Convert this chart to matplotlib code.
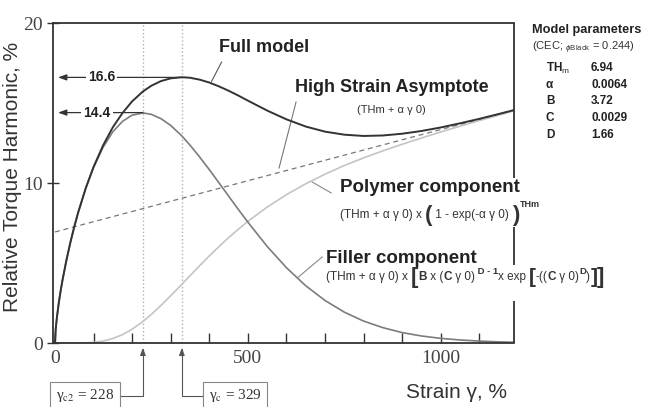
import numpy as np
import matplotlib
matplotlib.use('Agg')
import matplotlib.pyplot as plt

# Curve values (strain in %, torque harmonic in %)
strain = [0, 2, 5, 10, 15, 20, 30, 40, 50, 60, 80, 100, 125, 150, 175, 200, 228, 250, 275, 300,
          329, 350, 375, 400, 425, 450, 475, 500, 550, 600, 650, 700, 750, 800, 850, 900, 950,
          1000, 1050, 1100, 1150, 1200]
polymer = [0.00, 0.00, 0.00, 0.00, 0.00, 0.00, 0.00, 0.00, 0.00, 0.00, 0.01, 0.04, 0.12, 0.28,
           0.52, 0.86, 1.34, 1.79, 2.35, 2.95, 3.67, 4.20, 4.83, 5.44, 6.02, 6.58, 7.10, 7.60,
           8.49, 9.27, 9.95, 10.55, 11.09, 11.57, 12.01, 12.42, 12.81, 13.19, 13.55, 13.90, 14.24, 14.57]
filler = [0.00, 0.86, 1.58, 2.51, 3.29, 3.98, 5.20, 6.28, 7.25, 8.13, 9.67, 10.96, 12.24, 13.20,
          13.85, 14.24, 14.38, 14.29, 14.02, 13.60, 12.94, 12.37, 11.63, 10.84, 10.02, 9.19, 8.36, 7.56,
          6.04, 4.71, 3.58, 2.66, 1.93, 1.37, 0.96, 0.65, 0.44, 0.29, 0.19, 0.12, 0.07, 0.04]
full = [0.00, 0.86, 1.58, 2.51, 3.29, 3.98, 5.20, 6.28, 7.25, 8.14, 9.69, 11.00, 12.36, 13.48,
        14.37, 15.10, 15.72, 16.08, 16.37, 16.54, 16.61, 16.58, 16.46, 16.28, 16.04, 15.77, 15.47, 15.15,
        14.53, 13.98, 13.53, 13.21, 13.02, 12.94, 12.97, 13.08, 13.25, 13.47, 13.73, 14.01, 14.31, 14.62]
asym_strain = [0, 1200]
asym_values = [6.94, 14.62]

# Marked strains and peak values
gamma_c2, gamma_c = 228, 329
peak_filler, peak_full = 14.4, 16.6

param_names = ['TH$_\\mathrm{m}$', '\u03b1', 'B', 'C', 'D']
param_values = ['6.94', '0.0064', '3.72', '0.0029', '1.66']

plt.rcParams['font.family'] = 'Liberation Sans'
plt.rcParams['mathtext.fontset'] = 'custom'
plt.rcParams['mathtext.rm'] = 'Liberation Sans'
plt.rcParams['mathtext.it'] = 'Liberation Sans:italic'
plt.rcParams['mathtext.bf'] = 'Liberation Sans:bold'

W, H = 645, 407
fig = plt.figure(figsize=(W / 100, H / 100), dpi=100)
ax = fig.add_axes([53 / W, 1 - 343 / H, (514 - 53) / W, (343 - 23) / H])

dark = '#333333'
ax.plot(strain, polymer, color='#c4c4c4', lw=1.2, zorder=2)
ax.plot(strain, filler, color='#7c7c7c', lw=1.2, zorder=2)
ax.plot(asym_strain, asym_values, color='#777777', lw=0.9, ls=(0, (4, 3)), zorder=2)
ax.plot(strain, full, color=dark, lw=1.4, zorder=3)

for g in [gamma_c2, gamma_c]:
    ax.axvline(g, color='#b0b0b0', lw=1.0, ls=':', zorder=1)

ax.set_xlim(-5, 1190)
ax.set_ylim(0, 20)
ax.set_xticks(np.arange(0, 1200, 100))
ax.set_xticklabels(['0', '', '', '', '', '500', '', '', '', '', '1000', ''])
ax.set_yticks([0, 10, 20])
ax.tick_params(axis='x', direction='in', length=7, width=1, color=dark, pad=5)
ax.tick_params(axis='y', direction='inout', length=9, width=1, color=dark, pad=3)
for lab in ax.get_xticklabels() + ax.get_yticklabels():
    lab.set_family('Liberation Serif')
    lab.set_fontsize(14)
    lab.set_color('#444444')
for s in ax.spines.values():
    s.set_linewidth(1.3)
    s.set_color(dark)

# right frame line is broken where the labels run across it
ax.spines['right'].set_visible(False)
rtrans = ax.get_yaxis_transform()
for y0, y1 in [(20, 10.31), (7.25, 4.875), (2.625, 0)]:
    ax.plot([1, 1], [y0, y1], transform=rtrans, color=dark, lw=1.3, clip_on=False,
            solid_capstyle='butt')

fig.text(13 / W, 1 - 177 / H, 'Relative Torque Harmonic, %', rotation=90, fontsize=15,
         ha='center', va='center', color='#333333')
fig.text(456 / W, 1 - 393 / H, 'Strain \u03b3, %', fontsize=15, ha='center', va='center',
         color='#333333')

# peak value arrows
for g, v, tx in [(gamma_c, peak_full, 121), (gamma_c2, peak_filler, 109)]:
    ax.annotate('', xy=(8, v), xytext=(g, v),
                arrowprops=dict(arrowstyle='-|>,head_length=0.5,head_width=0.18', color=dark, lw=0.9,
                                shrinkA=0, shrinkB=0))
    ax.text(tx, v, f'{v:.1f}', fontsize=10, fontweight='bold', ha='center', va='center',
            color='#222222', bbox=dict(facecolor='white', edgecolor='none', pad=1.5))


def formula(x, y, pieces):
    # write a formula piece by piece, each piece starting where the last one ends
    first = prev = None
    for s, fs, bold, rise in pieces:
        kw = dict(fontsize=fs, fontweight='bold' if bold else 'normal', color='#333333',
                  ha='left', va='center', zorder=5, annotation_clip=False)
        if prev is None:
            t = ax.annotate(s, xy=(x, y), xycoords='data', **kw)
            first = t
        else:
            t = ax.annotate(s, xy=(1, 0.5), xycoords=(prev, first), xytext=(0, rise),
                            textcoords='offset points', **kw)
        prev = t


# curve labels with leader lines
ax.plot([432, 406], [17.56, 16.35], color='#555555', lw=0.8, clip_on=False)
ax.text(543, 18.5, 'Full model', fontsize=13, fontweight='bold', ha='center', va='center',
        color='#222222')

ax.plot([625, 581], [15.06, 10.94], color='#777777', lw=0.8, clip_on=False)
ax.text(873, 15.94, 'High Strain Asymptote', fontsize=13, fontweight='bold', ha='center',
        va='center', color='#222222')
ax.text(872, 14.55, '(THm + \u03b1 \u03b3 0)', fontsize=8, ha='center', va='center',
        color='#333333')

ax.plot([716, 667], [9.38, 10.06], color='#888888', lw=0.8, clip_on=False)
ax.text(738, 9.69, 'Polymer component', fontsize=13.5, fontweight='bold', ha='left', va='center',
        color='#222222', clip_on=False, zorder=5)
formula(738, 8.0, [('(THm + \u03b1 \u03b3 0) x ', 8.5, False, 0),
                   ('(', 16, True, 0),
                   (' 1 - exp(-\u03b1 \u03b3 0) ', 8.5, False, 0),
                   (')', 16, True, 0),
                   ('THm', 6.5, True, 7.5)])

ax.plot([693, 628], [5.38, 4.06], color='#888888', lw=0.8, clip_on=False)
ax.text(702, 5.31, 'Filler component', fontsize=13.5, fontweight='bold', ha='left', va='center',
        color='#222222', clip_on=False, zorder=5)
formula(702, 4.1, [('(THm + \u03b1 \u03b3 0) x ', 8.5, False, 0),
                   ('[', 16, True, 0),
                   ('B', 8.5, True, 0),
                   (' x (', 8.5, False, 0),
                   ('C', 8.5, True, 0),
                   (' \u03b3 0)', 8.5, False, 0),
                   (' D - 1', 6.8, True, 4.5),
                   ('x exp ', 8.5, False, 0),
                   ('[', 15, True, 0),
                   ('-((', 8.5, False, 0),
                   ('C', 8.5, True, 0),
                   (' \u03b3 0)', 8.5, False, 0),
                   ('D', 6.8, True, 4.5),
                   (')', 8.5, False, 0),
                   (']', 15, True, 0),
                   (']', 16, True, 0)])

# gamma boxes below the axis
box = dict(boxstyle='square,pad=0.35', facecolor='white', edgecolor='#888888', lw=0.8)
for g, lab, pos in [(gamma_c2, '\u03b3$_{\\mathrm{c2}}$ = 228', (85, 11)),
                    (gamma_c, '\u03b3$_{\\mathrm{c}}$ = 329', (235, 11))]:
    ax.annotate(lab, xy=(g, -0.3), xycoords='data', xytext=pos, textcoords='figure pixels',
                fontsize=11, family='Liberation Serif', math_fontfamily='stix', ha='center',
                va='center', color='#333333', bbox=box, annotation_clip=False,
                arrowprops=dict(arrowstyle='-|>,head_length=0.4,head_width=0.15', color='#555555', lw=0.8,
                                connectionstyle='angle,angleA=0,angleB=90,rad=0', shrinkA=0, shrinkB=0))

# model parameters
fig.text(532 / W, 1 - 30 / H, 'Model parameters', fontsize=9.2, fontweight='bold', ha='left',
         va='center', color='#222222')
fig.text(532 / W, 1 - 48 / H, '(CEC; $_{\\phi\\mathrm{Black}}$ = 0.244)', fontsize=8, ha='left',
         va='center', color='#333333')
for i, (n, v) in enumerate(zip(param_names, param_values)):
    y = 1 - (68 + i * 16.7) / H
    fig.text(546 / W, y, n, fontsize=8.5, fontweight='bold', ha='left', va='center', color='#222222')
    fig.text(591 / W, y, v, fontsize=8.5, fontweight='bold', ha='left', va='center', color='#222222')

fig.savefig('out.png', dpi=100)
